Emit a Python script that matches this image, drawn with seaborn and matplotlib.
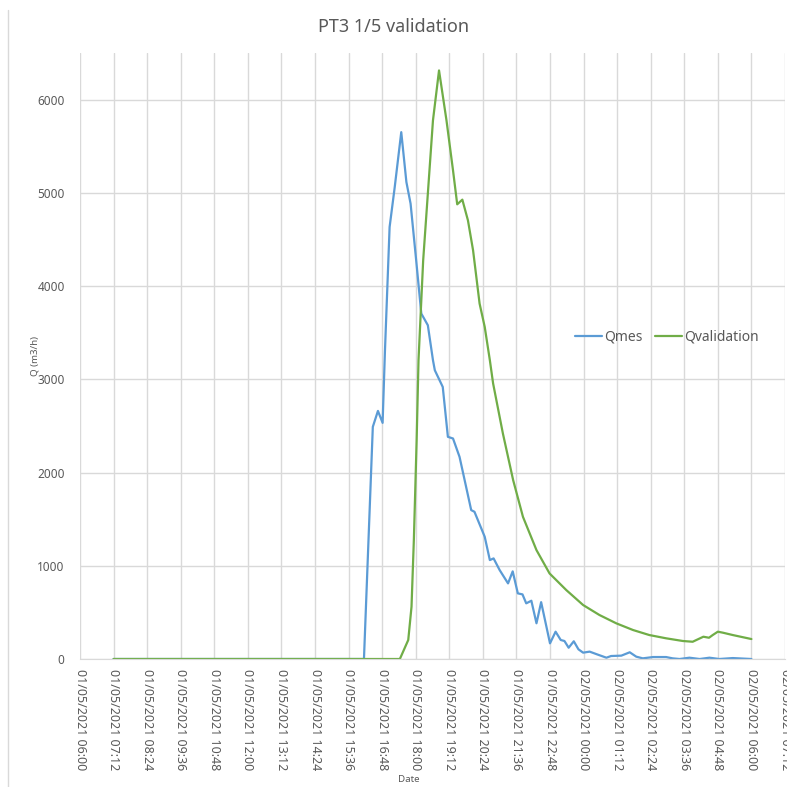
import seaborn as sns
sns.set_style('white')
import matplotlib.pyplot as plt
import matplotlib.dates as mdates
import pandas as pd
import datetime

plt.rcParams['font.family'] = ['Noto Sans', 'DejaVu Sans']

mes_time = ['2021-05-01 07:12', '2021-05-01 09:30', '2021-05-01 12:00', '2021-05-01 14:30',
            '2021-05-01 16:09', '2021-05-01 16:28', '2021-05-01 16:39', '2021-05-01 16:49',
            '2021-05-01 16:54', '2021-05-01 17:04', '2021-05-01 17:15', '2021-05-01 17:29',
            '2021-05-01 17:40', '2021-05-01 17:49', '2021-05-01 18:01', '2021-05-01 18:12',
            '2021-05-01 18:26', '2021-05-01 18:37', '2021-05-01 18:41', '2021-05-01 18:58',
            '2021-05-01 19:09', '2021-05-01 19:20', '2021-05-01 19:34', '2021-05-01 19:59',
            '2021-05-01 20:06', '2021-05-01 20:28', '2021-05-01 20:39', '2021-05-01 20:47',
            '2021-05-01 21:00', '2021-05-01 21:18', '2021-05-01 21:28', '2021-05-01 21:39',
            '2021-05-01 21:49', '2021-05-01 21:57', '2021-05-01 22:08', '2021-05-01 22:19',
            '2021-05-01 22:29', '2021-05-01 22:48', '2021-05-01 23:00', '2021-05-01 23:11',
            '2021-05-01 23:19', '2021-05-01 23:28', '2021-05-01 23:39', '2021-05-01 23:49',
            '2021-05-01 23:59', '2021-05-02 00:13', '2021-05-02 00:31', '2021-05-02 00:49',
            '2021-05-02 00:59', '2021-05-02 01:21', '2021-05-02 01:39', '2021-05-02 01:53',
            '2021-05-02 02:07', '2021-05-02 02:29', '2021-05-02 02:57', '2021-05-02 03:11',
            '2021-05-02 03:26', '2021-05-02 03:47', '2021-05-02 04:09', '2021-05-02 04:30',
            '2021-05-02 04:51', '2021-05-02 05:20', '2021-05-02 06:00']
mes_flow = [0, 0, 0, 0,
            0, 2490, 2661, 2533,
            3300, 4633, 5062, 5651,
            5116, 4884, 4276, 3705,
            3580, 3205, 3097, 2918,
            2383, 2365, 2168, 1597,
            1579, 1311, 1061, 1079,
            954, 811, 940, 704,
            693, 597, 625, 383,
            610, 168, 293, 204,
            193, 121, 190, 104,
            68, 79, 46, 14,
            32, 36, 72, 25,
            7, 21, 21, 7,
            0, 14, 0, 14,
            0, 10, 0]

# // validation run (Qvalidation)
val_time = ['2021-05-01 07:12', '2021-05-01 10:00', '2021-05-01 13:00', '2021-05-01 16:00',
            '2021-05-01 17:26', '2021-05-01 17:44', '2021-05-01 17:51', '2021-05-01 17:56',
            '2021-05-01 18:02', '2021-05-01 18:06', '2021-05-01 18:16', '2021-05-01 18:26',
            '2021-05-01 18:37', '2021-05-01 18:50', '2021-05-01 19:06', '2021-05-01 19:20',
            '2021-05-01 19:29', '2021-05-01 19:40', '2021-05-01 19:52', '2021-05-01 20:03',
            '2021-05-01 20:17', '2021-05-01 20:28', '2021-05-01 20:39', '2021-05-01 20:46',
            '2021-05-01 21:07', '2021-05-01 21:29', '2021-05-01 21:50', '2021-05-01 22:19',
            '2021-05-01 22:47', '2021-05-01 23:23', '2021-05-01 23:59', '2021-05-02 00:34',
            '2021-05-02 01:10', '2021-05-02 01:46', '2021-05-02 02:21', '2021-05-02 02:57',
            '2021-05-02 03:33', '2021-05-02 03:54', '2021-05-02 04:05', '2021-05-02 04:17',
            '2021-05-02 04:29', '2021-05-02 04:37', '2021-05-02 04:48', '2021-05-02 04:59',
            '2021-05-02 05:20', '2021-05-02 06:00']
val_flow = [0, 0, 0, 0,
            0, 204, 561, 1275,
            2347, 3205, 4276, 4991,
            5777, 6313, 5777, 5241,
            4877, 4927, 4705, 4384,
            3812, 3562, 3205, 2955,
            2418, 1918, 1525, 1168,
            918, 739, 579, 472,
            383, 311, 257, 222,
            193, 185, 211, 239,
            228, 257, 293, 282,
            257, 214]

df = pd.concat([
    pd.DataFrame({'Date': pd.to_datetime(mes_time), 'Q': mes_flow, 'serie': 'Qmes'}),
    pd.DataFrame({'Date': pd.to_datetime(val_time), 'Q': val_flow, 'serie': 'Qvalidation'}),
])

grey = '#595959'
gridc = '#d9d9d9'

fig = plt.figure(figsize=(7.87, 7.87), dpi=100)
ax = fig.add_axes([80/787, 1-659/787, 705/787, 606/787])

sns.lineplot(data=df, x='Date', y='Q', hue='serie', palette=['#5b9bd5', '#70ad47'],
             linewidth=1.6, ax=ax)

# x axis : 72 min steps, 06:00 -> 07:12 next day
start = datetime.datetime(2021, 5, 1, 6, 0)
end = datetime.datetime(2021, 5, 2, 7, 12)
ticks = [start + datetime.timedelta(minutes=72*i) for i in range(22)]
ax.set_xlim(start, end)
ax.set_xticks(ticks)
ax.xaxis.set_major_formatter(mdates.DateFormatter('%d/%m/%Y %H:%M'))
ax.set_ylim(0, 6500)
ax.set_yticks(range(0, 7000, 1000))

ax.grid(True, color=gridc, linewidth=1)
ax.set_axisbelow(True)
for s in ['top', 'right', 'left']:
    ax.spines[s].set_visible(False)
ax.spines['bottom'].set_color(gridc)
ax.tick_params(axis='x', length=0, pad=7, labelsize=9, labelcolor=grey, rotation=-90)
ax.tick_params(axis='y', length=0, pad=11, labelsize=8.5, labelcolor=grey)
for lbl in ax.get_xticklabels():
    lbl.set_va('top')
    lbl.set_ha('center')

ax.set_xlabel('Date', fontsize=7, color=grey)
ax.xaxis.set_label_coords(0.467, -0.192)
ax.set_ylabel('Q (m3/h)', fontsize=7, color=grey)
ax.yaxis.set_label_coords(-0.058, 0.5)

fig.suptitle('PT3 1/5 validation', y=1-27/787, va='center', fontsize=13, color=grey)

leg = ax.legend(loc='center left', bbox_to_anchor=(562/787, 1-337/787),
                bbox_transform=fig.transFigure, ncol=2, frameon=False,
                fontsize=10, handlelength=2.0, handletextpad=0.1, columnspacing=0.9)
for t in leg.get_texts():
    t.set_color(grey)

# thin chart border on the left like the excel export
fig.add_artist(plt.Line2D([8/787, 8/787], [0, 1-10/787], color=gridc, linewidth=1,
                          transform=fig.transFigure))

fig.savefig('out.png', dpi=100)
